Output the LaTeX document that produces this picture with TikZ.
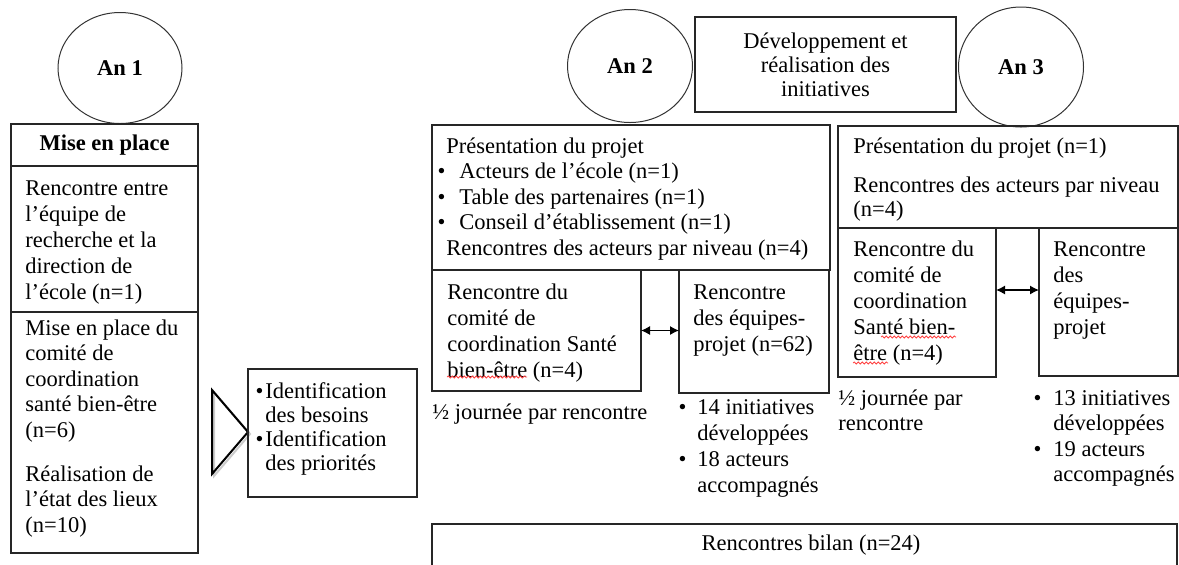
\documentclass[tikz,border=0pt]{standalone}
\usepackage{fontspec}
\setmainfont{Liberation Serif}
\usetikzlibrary{arrows.meta,positioning,shapes.geometric,decorations.pathmorphing}
\newcommand\bodyfont{\fontsize{11.25pt}{13pt}\selectfont}
\newcommand\itemdot[1]{\leavevmode\llap{\textbullet\hspace{#1}}}

\begin{document}
\begin{tikzpicture}[x=0.5pt,y=-0.5pt,
  year node/.style={ellipse,draw=black!80,line width=0.5pt,inner sep=0pt,font=\bodyfont\bfseries},
  box/.style={draw=black!85,line width=0.6pt,inner sep=0pt,outer sep=0pt},
  txt/.style={anchor=base west,inner sep=0pt,align=flush left,text width=200pt,font=\bodyfont},
  mid/.style={inner sep=0pt,align=center,font=\bodyfont},
  both/.style={{Latex[length=4.5pt,width=4.5pt]}-{Latex[length=4.5pt,width=4.5pt]},line width=0.6pt},
  typo/.style={red!75,line width=0.4pt,decorate,decoration={snake,amplitude=0.5pt,segment length=2pt}}]
  \useasboundingbox (0,0) rectangle (1179,564);

  % An 1
  \node[year node,minimum width=62pt,minimum height=55.5pt] (an1) at (120,68) {An 1};
  \node[box,minimum width=93.5pt,minimum height=214.5pt] (mep) at (104.5,338.5) {};
  \draw[box] (11,166) -- (198,166);
  \draw[box] (11,312) -- (198,312);
  \node[mid,font=\bodyfont\bfseries] (meptitle) at (104.5,145) {Mise en place};
  \node[txt] (mep1) at (25,195) {Rencontre entre\\l’équipe de\\recherche et la\\direction de\\l’école (n=1)};
  \node[txt,font=\fontsize{11.25pt}{12.75pt}\selectfont] (mep2) at (25,335) {Mise en place du\\comité de\\coordination\\santé bien-être\\(n=6)};
  \node[txt,font=\fontsize{11.25pt}{12.75pt}\selectfont] (mep3) at (25,481) {Réalisation de\\l’état des lieux\\(n=10)};

  \draw[black!20,line width=1pt] (214,392) -- (250,434) -- (214,476) -- cycle;
  \draw[line width=1pt] (212,390) -- (248,432) -- (212,474) -- cycle;
  \node[box,minimum width=84.5pt,minimum height=64pt] (idb) at (332.5,433) {};
  \node[txt,font=\fontsize{11.25pt}{12pt}\selectfont] (idbtxt) at (265,398)
    {\itemdot{1pt}Identification\\des besoins\\\itemdot{1pt}Identification\\des priorités};

  % An 2
  \node[year node,minimum width=62.5pt,minimum height=56.5pt] (an2) at (630,66) {An 2};
  \node[box,mid,minimum width=130.5pt,minimum height=47.5pt,font=\fontsize{11.25pt}{12pt}\selectfont] (dev) at (825.5,64.5)
    {Développement et\\réalisation des\\initiatives};
  \node[box,minimum width=199pt,minimum height=72.5pt] (a2top) at (631,197.5) {};
  \node[txt,font=\fontsize{11.25pt}{12.75pt}\selectfont] (a2toptxt) at (446,153)
    {Présentation du projet\\
     \hspace*{6.5pt}\itemdot{7pt}Acteurs de l’école (n=1)\\
     \hspace*{6.5pt}\itemdot{7pt}Table des partenaires (n=1)\\
     \hspace*{6.5pt}\itemdot{7pt}Conseil d’établissement (n=1)\\
     Rencontres des acteurs par niveau (n=4)};
  \node[box,minimum width=104.5pt,minimum height=60.5pt] (a2com) at (536.5,330.5) {};
  \node[box,minimum width=75pt,minimum height=61.5pt] (a2eq) at (754,331.5) {};
  \node[txt] (a2comtxt) at (447,299) {Rencontre du\\comité de\\coordination Santé\\bien-être (n=4)};
  \node[txt] (a2eqtxt) at (693,299) {Rencontre\\des équipes-\\projet (n=62)};
  \draw[both] (a2com.east) -- (a2com.east -| a2eq.west);
  \draw[typo] (447,377) -- (527,377);
  \node[txt] (a2demi) at (432,419) {½ journée par rencontre};
  \node[txt] (a2res) at (697,414) {\itemdot{5.5pt}14 initiatives\\développées\\\itemdot{5.5pt}18 acteurs\\accompagnés};

  % An 3
  \node[year node,minimum width=62.5pt,minimum height=60pt] (an3) at (1021,67) {An 3};
  \node[box,minimum width=170pt,minimum height=51pt] (a3top) at (1008,177) {};
  \node[txt] (a3pres) at (853,153) {Présentation du projet (n=1)};
  \node[txt,font=\fontsize{11.25pt}{12pt}\selectfont] (a3niv) at (853,192) {Rencontres des acteurs par niveau\\(n=4)};
  \node[box,minimum width=79pt,minimum height=74.5pt] (a3com) at (917,302.5) {};
  \node[box,minimum width=69.5pt,minimum height=74pt] (a3eq) at (1108.5,302) {};
  \node[txt] (a3comtxt) at (853,256) {Rencontre du\\comité de\\coordination\\Santé bien-\\être (n=4)};
  \node[txt] (a3eqtxt) at (1053,256) {Rencontre\\des\\équipes-\\projet};
  \coordinate (a3arr) at ([yshift=6.25pt]a3com.east);
  \draw[both] (a3arr) -- (a3arr -| a3eq.west);
  \draw[typo] (881,337) -- (956,337);
  \draw[typo] (853,363) -- (888,363);
  \node[txt,font=\fontsize{11.25pt}{12.5pt}\selectfont] (a3demi) at (838,405) {½ journée par\\rencontre};
  \node[txt,font=\fontsize{11.25pt}{12.75pt}\selectfont] (a3res) at (1053,405) {\itemdot{6pt}13 initiatives\\développées\\\itemdot{6pt}19 acteurs\\accompagnés};

  % bilan
  \draw[box] (432,566) |- (1177,524) -- (1177,566);
  \node[mid] (bilan) at (811,545) {Rencontres bilan (n=24)};
\end{tikzpicture}
\end{document}
